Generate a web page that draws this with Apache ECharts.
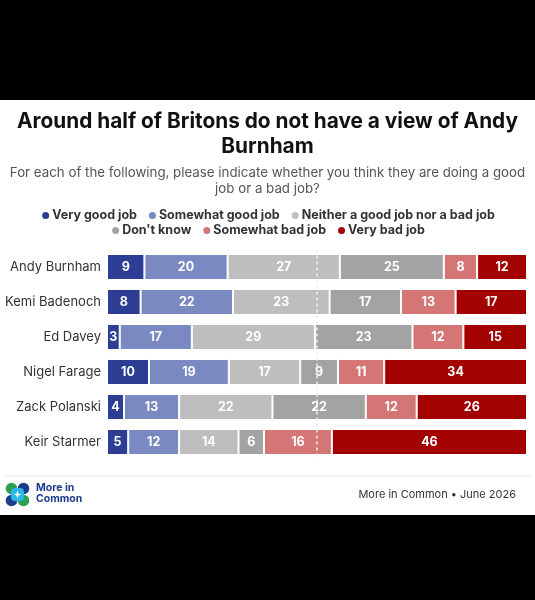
<!DOCTYPE html>
<html>
<head>
<meta charset="utf-8">
<script src="https://cdn.jsdelivr.net/npm/echarts@6/dist/echarts.min.js"></script>
<style>
html,body{margin:0;padding:0;background:#000;width:535px;height:600px;overflow:hidden;}
#chart{position:absolute;left:0;top:100px;width:535px;height:415px;background:#fff;}
</style>
</head>
<body>
<div id="chart"></div>
<script>
const categories = ['Andy Burnham','Kemi Badenoch','Ed Davey','Nigel Farage','Zack Polanski','Keir Starmer'];
const seriesNames = ['Very good job','Somewhat good job','Neither a good job nor a bad job',"Don't know",'Somewhat bad job','Very bad job'];
const veryGood     = [9, 8, 3, 10, 4, 5];
const somewhatGood = [20, 22, 17, 19, 13, 12];
const neither      = [27, 23, 29, 17, 22, 14];
const dontKnow     = [25, 17, 23, 9, 22, 6];
const somewhatBad  = [8, 13, 12, 11, 12, 16];
const veryBad      = [12, 17, 15, 34, 26, 46];
const colors = ['#2c3d93','#7b89c3','#bebebe','#a3a3a3','#d57676','#a30000'];

const allValues = [veryGood, somewhatGood, neither, dontKnow, somewhatBad, veryBad];
const totals = categories.map((c, i) => allValues.reduce((s, arr) => s + arr[i], 0));
const FONT = 'Inter';

const series = allValues.map((arr, k) => ({
  name: seriesNames[k],
  type: 'bar',
  stack: 'all',
  barWidth: 26,
  data: arr.map((v, i) => ({ value: v / totals[i] * 100, raw: v })),
  itemStyle: { color: colors[k], borderColor: '#ffffff', borderWidth: 1 },
  label: {
    show: true,
    position: 'inside',
    color: '#ffffff',
    fontFamily: FONT,
    fontWeight: 'bold',
    fontSize: 12.5,
    formatter: p => p.data.raw
  },
  emphasis: { disabled: true }
}));
series[5].markLine = {
  silent: true,
  symbol: 'none',
  label: { show: false },
  lineStyle: { color: '#eeeeee', type: [3, 3], width: 1.5, opacity: 1 },
  data: [{ xAxis: 50 }]
};

const chart = echarts.init(document.getElementById('chart'));
chart.setOption({
  animation: false,
  backgroundColor: '#ffffff',
  color: colors,
  title: [{
    text: 'Around half of Britons do not have a view of Andy\nBurnham',
    left: 'center', top: 4,
    textStyle: { fontFamily: FONT, fontSize: 20.8, fontWeight: 'bold', color: '#111111', lineHeight: 25, align: 'center' }
  }, {
    text: 'For each of the following, please indicate whether you think they are doing a good\njob or a bad job?',
    left: 'center', top: 60,
    textStyle: { fontFamily: FONT, fontSize: 13.3, fontWeight: 'normal', color: '#555555', lineHeight: 16, align: 'center' }
  }],
  legend: [{
    data: seriesNames.slice(0, 3),
    top: 104, left: 'center',
    icon: 'circle', itemWidth: 9, itemHeight: 9, itemGap: 10,
    textStyle: { fontFamily: FONT, fontSize: 12.5, fontWeight: 'bold', color: '#333333', padding: [0, 0, 0, -3] },
    selectedMode: false
  }, {
    data: seriesNames.slice(3),
    top: 119, left: 'center',
    icon: 'circle', itemWidth: 9, itemHeight: 9, itemGap: 10,
    textStyle: { fontFamily: FONT, fontSize: 12.5, fontWeight: 'bold', color: '#333333', padding: [0, 0, 0, -3] },
    selectedMode: false
  }],
  grid: { left: 107, right: 8, top: 149.5, height: 210, containLabel: false },
  xAxis: { type: 'value', min: 0, max: 100, show: false },
  yAxis: {
    type: 'category', data: categories, inverse: true,
    axisLine: { show: false }, axisTick: { show: false },
    axisLabel: { fontFamily: FONT, fontSize: 13, color: '#333333', margin: 6 }
  },
  series: series,
  graphic: [
    { type: 'line', shape: { x1: 5, y1: 376, x2: 530, y2: 376 }, style: { stroke: '#e8e8e8', lineWidth: 1 } },
    { type: 'circle', shape: { cx: 11.5, cy: 388.5, r: 5.8 }, style: { fill: '#2e9f4f' } },
    { type: 'circle', shape: { cx: 23.5, cy: 388.5, r: 5.8 }, style: { fill: '#1d3b8c' } },
    { type: 'circle', shape: { cx: 11.5, cy: 400.5, r: 5.8 }, style: { fill: '#1d3b8c' } },
    { type: 'circle', shape: { cx: 23.5, cy: 400.5, r: 5.8 }, style: { fill: '#2e9f4f' } },
    { type: 'rect', shape: { x: 11, y: 388, width: 13, height: 13, r: 4 }, style: { fill: '#2ab7ea' } },
    { type: 'polygon', shape: { points: [[17.5, 390.5], [18.5, 393.5], [21.5, 394.5], [18.5, 395.5], [17.5, 398.5], [16.5, 395.5], [13.5, 394.5], [16.5, 393.5]] }, style: { fill: '#ffffff' } },
    { type: 'text', x: 36, y: 383, style: { text: 'More in\nCommon', fontFamily: FONT, fontSize: 10.5, fontWeight: 'bold', fill: '#1d3b8c', lineHeight: 10.5 } },
    { type: 'text', x: 516, y: 395, style: { text: 'More in Common • June 2026', fontFamily: FONT, fontSize: 11, fill: '#333333', textAlign: 'right', textVerticalAlign: 'middle' } }
  ]
});
</script>
</body>
</html>
